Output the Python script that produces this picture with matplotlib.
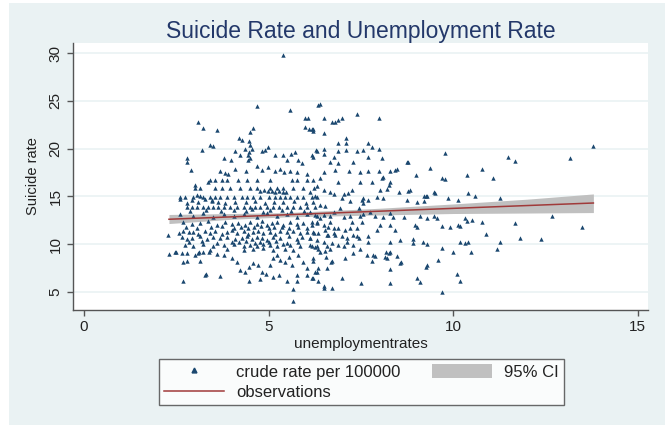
import numpy as np
import matplotlib
matplotlib.use("Agg")
import matplotlib.pyplot as plt
from matplotlib.patches import Rectangle, Patch
from matplotlib.lines import Line2D

plt.rcParams['font.family'] = ['Liberation Sans', 'DejaVu Sans']

# observations: (unemployment rate, suicide rate)
pts_top = [(5.40, 29.8), (4.68, 24.5), (5.58, 24.0), (5.99, 23.2), (6.08, 23.2), (6.35, 24.6),
           (5.99, 22.3), (6.10, 22.0), (6.21, 22.0), (3.10, 22.75), (3.21, 22.2), (3.60, 21.95),
           (4.59, 22.2), (4.50, 21.7), (6.40, 24.7), (6.49, 23.2), (6.71, 22.75), (6.80, 22.75),
           (6.89, 23.0), (6.98, 23.2), (7.39, 23.6), (7.98, 23.2), (6.17, 22.0), (6.21, 21.8),
           (6.49, 21.6), (7.10, 21.1), (7.10, 20.55), (6.89, 20.55)]
pts_upper = [(4.20, 21.1), (4.29, 20.9), (4.48, 20.8), (4.50, 20.4), (3.19, 19.8), (3.40, 20.4),
             (3.49, 20.3), (2.80, 19.0), (2.80, 18.6), (2.90, 17.8), (3.79, 19.05), (3.98, 18.8),
             (4.09, 19.75), (4.23, 19.3), (4.36, 19.95), (4.43, 19.3), (4.48, 19.6), (4.43, 18.8),
             (4.50, 19.0), (4.54, 20.0), (4.82, 19.75), (4.91, 19.85), (4.99, 20.2), (5.18, 19.3),
             (5.38, 19.3), (5.49, 18.8), (5.60, 19.4), (5.72, 19.6), (5.81, 18.8), (5.90, 18.5),
             (6.29, 19.85), (6.21, 19.15), (4.68, 18.2), (4.82, 17.8), (4.99, 18.05), (5.18, 17.6),
             (5.31, 17.9), (5.42, 17.5), (5.58, 17.6), (5.76, 17.5), (6.03, 17.3), (3.69, 17.6),
             (3.82, 17.4), (3.91, 17.3), (4.09, 17.9), (4.39, 17.65)]
pts_upper_mid = [(6.49, 20.0), (6.31, 19.75), (6.17, 19.3), (6.49, 19.4), (6.89, 19.75), (7.10, 19.85),
                 (6.76, 19.15), (7.39, 19.7), (7.57, 19.85), (7.70, 20.55), (7.79, 20.2), (7.98, 20.0),
                 (8.07, 19.0), (7.69, 19.15), (7.28, 18.6), (6.67, 18.55), (6.89, 18.45), (6.80, 17.75),
                 (7.19, 17.65), (7.48, 17.5), (7.69, 17.65), (7.98, 17.6), (8.29, 17.65), (8.43, 17.75),
                 (8.49, 17.85), (8.74, 18.55), (8.79, 18.55), (9.00, 17.2), (9.38, 17.95), (9.78, 19.5),
                 (9.69, 16.95), (10.37, 17.2), (6.49, 17.5), (6.40, 16.95), (8.09, 17.05)]
pts_right = [(11.50, 19.1), (11.68, 18.7), (13.17, 19.0), (13.79, 20.3), (10.78, 17.9), (11.09, 16.95),
             (9.78, 16.8), (8.79, 15.6), (9.51, 15.4), (9.20, 15.0), (9.27, 15.0), (10.40, 15.4),
             (10.60, 15.0), (11.27, 14.85), (9.01, 14.4), (12.67, 12.9), (13.49, 11.8), (11.68, 12.2),
             (11.80, 10.6), (12.38, 10.5), (11.27, 10.25), (11.18, 9.45), (10.89, 11.1), (10.78, 12.35),
             (10.37, 12.45), (10.19, 11.85), (10.33, 12.7), (10.51, 12.5), (9.92, 11.8), (9.69, 11.9),
             (9.47, 12.9), (9.56, 12.7)]
pts_lower_right = [(10.19, 10.25), (10.33, 10.15), (10.40, 10.25), (10.49, 9.2), (9.99, 9.2), (9.69, 9.55),
                   (9.60, 8.3), (10.10, 6.9), (10.19, 6.1), (9.69, 5.0), (9.28, 7.8), (9.27, 7.6),
                   (9.01, 6.4), (9.09, 6.0), (9.18, 10.25), (9.30, 10.0), (8.90, 10.5), (8.90, 10.15),
                   (9.01, 11.8), (8.29, 10.25), (8.29, 7.4), (8.29, 5.97), (8.47, 8.75), (8.56, 8.05),
                   (8.18, 9.2), (8.20, 8.5), (8.25, 9.05), (8.29, 9.2), (7.84, 8.9), (7.80, 8.2),
                   (7.50, 5.9), (6.98, 6.4), (6.71, 5.4), (6.49, 5.45), (6.58, 7.5), (6.71, 8.2),
                   (7.07, 8.5), (7.30, 9.05), (7.66, 8.9), (7.70, 10.25), (7.46, 10.6), (7.30, 10.95),
                   (6.49, 5.65), (6.35, 6.15), (6.21, 6.5), (6.26, 7.05), (6.68, 8.1), (6.56, 8.7),
                   (6.40, 9.15), (6.53, 9.3), (6.67, 9.5), (6.21, 8.2), (7.48, 9.5), (7.89, 8.8),
                   (8.16, 8.6), (8.58, 8.1)]
pts_mid_right = [(8.56, 10.45), (8.43, 11.5), (8.29, 12.0), (8.02, 12.0), (7.93, 11.5), (7.70, 10.8),
                 (7.39, 10.8), (7.12, 10.6), (6.98, 10.8), (6.76, 11.15), (6.62, 10.95), (8.67, 12.8),
                 (8.97, 12.0), (9.11, 12.9), (9.29, 12.7), (10.14, 12.0), (7.89, 12.9), (8.11, 12.8),
                 (8.29, 13.25), (8.38, 12.8), (7.75, 13.4), (7.57, 13.1), (7.48, 12.9), (7.21, 12.9),
                 (7.03, 12.8), (6.67, 12.9), (6.49, 13.05), (6.89, 16.5), (7.48, 16.5), (7.80, 16.55),
                 (8.07, 16.9), (8.29, 16.55), (8.83, 15.7), (9.49, 15.5), (10.14, 14.6), (9.87, 14.8),
                 (9.29, 15.0), (9.20, 14.5), (8.75, 14.6), (8.52, 15.5), (8.20, 15.8), (8.25, 16.2),
                 (8.02, 15.7), (7.53, 14.6), (7.57, 14.8), (7.26, 15.7), (7.16, 15.35), (6.98, 14.8),
                 (7.03, 15.2), (6.76, 15.2), (6.67, 15.45), (6.49, 15.7), (6.31, 16.05), (6.21, 16.7)]
pts_mid_six = [(6.12, 15.5), (6.26, 15.0), (6.21, 14.45), (6.40, 14.1), (6.53, 13.95), (6.12, 13.4),
               (6.26, 13.05), (6.40, 12.7), (6.17, 12.35), (6.31, 12.2), (6.49, 12.0), (6.62, 11.8),
               (6.76, 11.65), (6.89, 11.65), (6.67, 12.35), (6.53, 11.5), (6.21, 11.3), (6.35, 11.15),
               (6.58, 10.95), (6.80, 10.95), (6.12, 10.6), (6.31, 10.45), (6.49, 10.25), (6.71, 10.1),
               (6.89, 9.9), (6.17, 9.75), (6.35, 9.5), (6.58, 9.75), (7.03, 9.75), (7.12, 10.25),
               (7.30, 9.9), (7.07, 11.5), (7.21, 11.65), (7.39, 11.65), (7.26, 12.35), (7.53, 12.35),
               (7.44, 13.75), (7.57, 14.3), (7.70, 14.6), (7.93, 14.95), (8.11, 14.8), (7.21, 14.5),
               (6.94, 13.75), (6.76, 13.4)]
pts_low_left = [(5.67, 4.05), (5.67, 5.3), (2.69, 6.1), (3.31, 6.85), (3.69, 6.7), (4.48, 6.1),
                (4.77, 6.35), (5.13, 6.6), (5.27, 6.8), (5.49, 6.15), (5.76, 6.8), (5.76, 6.15),
                (6.03, 6.8), (6.17, 6.45), (6.31, 7.05), (6.35, 7.5), (2.28, 10.9), (2.31, 8.98),
                (2.49, 9.2), (2.69, 8.1), (2.80, 9.05), (3.01, 8.85), (3.12, 9.15), (3.23, 9.2),
                (3.39, 9.15), (3.60, 8.95), (3.78, 8.85), (4.00, 8.5), (4.14, 8.1), (4.23, 7.3),
                (4.36, 7.1), (4.48, 7.65), (4.59, 8.0), (4.72, 7.8), (4.82, 7.1), (4.93, 6.85),
                (5.04, 7.8), (5.13, 8.5), (5.22, 8.85), (5.31, 8.3), (5.45, 8.1), (5.54, 8.65),
                (5.63, 7.8), (5.81, 8.85), (5.94, 8.15), (6.03, 7.45), (6.21, 8.5), (6.26, 9.7),
                (2.47, 9.2), (2.65, 9.05), (2.78, 8.2), (3.10, 9.05), (3.14, 8.2), (3.28, 6.8)]
pts_dense_hi = [(3.41, 16.7), (3.73, 16.7), (3.87, 16.7), (4.18, 16.7), (4.41, 16.7), (4.68, 16.7),
                (5.04, 16.7), (5.63, 16.7), (5.76, 16.7), (6.03, 16.7),
                (3.01, 15.9), (3.14, 15.9), (3.55, 15.9), (3.73, 15.9), (3.96, 15.9), (4.23, 15.9),
                (4.50, 15.9), (4.68, 15.9), (5.04, 15.9), (5.22, 15.9), (5.40, 15.9), (5.67, 15.9),
                (5.94, 15.9), (6.22, 15.9),
                (2.60, 14.9), (2.74, 14.9), (2.96, 14.9), (3.23, 14.9), (3.41, 14.9), (3.55, 14.9),
                (3.69, 14.9), (3.87, 14.9), (4.05, 14.9), (4.27, 14.9), (4.41, 14.9), (4.59, 14.9),
                (4.77, 14.9), (5.00, 14.9), (5.18, 14.9), (5.31, 14.9), (5.45, 14.9), (5.58, 14.9),
                (5.76, 14.9), (5.94, 14.9), (6.17, 14.9), (6.31, 14.9),
                (3.10, 14.4), (3.46, 14.5), (3.82, 14.35), (4.10, 14.45), (4.38, 14.4), (4.64, 14.55),
                (4.90, 14.3), (5.15, 14.45), (5.40, 14.4), (5.70, 14.5), (6.00, 14.35),
                (2.60, 14.7), (2.78, 14.3), (2.92, 14.6), (3.05, 15.15), (3.14, 15.0), (3.28, 14.7),
                (3.46, 14.6), (3.64, 14.45), (3.01, 16.2), (3.37, 16.55), (3.55, 16.7),
                (4.78, 15.6), (4.88, 15.65), (4.98, 15.55), (5.08, 15.6), (5.18, 15.5), (5.28, 15.55),
                (5.38, 15.45), (5.48, 15.5)]
pts_dense_mid = [(2.78, 13.9), (2.92, 13.9), (3.05, 13.9), (3.23, 13.9), (3.37, 13.9), (3.50, 13.9),
                 (3.64, 13.9), (3.78, 13.9), (3.96, 13.9), (4.14, 13.9), (4.32, 13.9), (4.50, 13.9),
                 (4.63, 13.9), (4.77, 13.9), (4.95, 13.9), (5.13, 13.9), (5.27, 13.9), (5.49, 13.9),
                 (5.67, 13.9), (5.85, 13.9), (6.03, 13.9), (6.26, 13.9),
                 (2.87, 13.5), (3.30, 13.6), (3.70, 13.45), (4.05, 13.55), (4.40, 13.5), (4.55, 13.65),
                 (4.85, 13.4), (5.05, 13.55), (5.35, 13.6), (5.60, 13.45), (5.95, 13.5),
                 (2.60, 13.2), (2.96, 12.9), (3.23, 13.3), (3.50, 12.8), (3.78, 13.1), (4.05, 12.9),
                 (4.32, 13.2), (4.68, 12.8), (4.95, 13.3), (5.22, 12.9), (5.49, 13.1), (5.76, 12.8),
                 (6.03, 13.2), (6.31, 12.9),
                 (2.69, 12.3), (2.92, 12.1), (3.14, 12.2), (3.37, 12.4), (3.60, 12.0), (3.82, 12.3),
                 (4.00, 12.1), (4.18, 12.25), (4.36, 12.0), (4.50, 12.35), (4.68, 12.15), (4.82, 12.4),
                 (4.95, 12.0), (5.09, 12.2), (5.22, 12.3), (5.40, 12.05), (5.58, 12.35), (5.76, 12.1),
                 (5.94, 12.25), (6.17, 12.0), (6.31, 12.3),
                 (2.75, 11.8), (3.05, 11.7), (3.45, 11.75), (3.75, 11.85), (4.05, 11.7), (4.25, 11.8),
                 (4.45, 11.65), (4.60, 11.75), (4.80, 11.85), (5.00, 11.7), (5.15, 11.8), (5.35, 11.75),
                 (5.55, 11.65), (5.80, 11.8), (6.05, 11.7)]
pts_dense_lo = [(2.56, 11.2), (2.69, 11.4), (2.83, 11.25), (2.96, 11.3), (3.10, 11.1), (3.28, 11.35),
                (3.41, 11.2), (3.55, 11.4), (3.73, 11.1), (3.87, 11.3), (4.00, 11.45), (4.14, 11.2),
                (4.32, 11.35), (4.45, 11.1), (4.59, 11.3), (4.72, 11.4), (4.86, 11.2), (5.04, 11.3),
                (5.18, 11.1), (5.31, 11.35), (5.49, 11.25), (5.67, 11.4), (5.85, 11.15), (6.03, 11.3),
                (6.22, 11.2),
                (2.65, 10.7), (2.78, 10.55), (2.92, 10.65), (3.14, 10.8), (3.32, 10.5), (3.50, 10.7),
                (3.69, 10.6), (3.87, 10.75), (4.09, 10.5), (4.27, 10.65), (4.41, 10.8), (4.54, 10.55),
                (4.68, 10.7), (4.82, 10.6), (4.95, 10.45), (5.13, 10.7), (5.31, 10.6), (5.54, 10.8),
                (5.76, 10.55), (5.90, 10.7), (6.12, 10.6),
                (2.85, 10.2), (3.20, 10.3), (3.60, 10.15), (4.00, 10.25), (4.20, 10.2), (4.40, 10.3),
                (4.62, 10.1), (4.78, 10.25), (5.00, 10.2), (5.20, 10.3), (5.50, 10.15), (5.80, 10.25),
                (2.74, 9.95), (2.96, 9.8), (3.23, 10.0), (3.50, 9.85), (3.78, 9.9), (4.05, 10.05),
                (4.32, 9.8), (4.50, 9.95), (4.68, 9.85), (4.86, 10.0), (5.04, 9.9), (5.22, 9.75),
                (5.40, 10.0), (5.58, 9.9), (5.85, 9.8), (6.12, 9.95), (6.31, 9.85),
                (3.41, 9.4), (3.87, 9.5), (4.32, 9.35), (4.59, 9.45), (4.86, 9.55), (5.13, 9.4),
                (5.45, 9.5), (5.67, 9.35)]

# fitted line and 95% CI band
fit_x = [2.3, 13.8]
fit_y = [12.6, 14.3]
ci_x = [2.3, 4.0, 5.5, 8.0, 10.0, 12.0, 13.8]
ci_lo = [12.15, 12.6, 12.85, 13.05, 13.2, 13.25, 13.3]
ci_hi = [13.1, 13.2, 13.3, 13.75, 14.2, 14.7, 15.25]

obs = np.array(pts_top + pts_upper + pts_upper_mid + pts_right + pts_lower_right + pts_mid_right
               + pts_mid_six + pts_low_left + pts_dense_hi + pts_dense_mid + pts_dense_lo)

navy = '#1a476f'
bg = '#eaf2f3'
txt = '#222222'

fig = plt.figure(figsize=(6.65, 4.25), dpi=100)
fig.patch.set_facecolor('white')
fig.patches.append(Rectangle((9 / 665, 0), 1, 422 / 425, transform=fig.transFigure,
                             facecolor=bg, edgecolor='none', zorder=-10))

ax = fig.add_axes([73 / 665, 1 - 310 / 425, 575 / 665, 267 / 425])
ax.set_facecolor('white')
ax.fill_between(ci_x, ci_lo, ci_hi, color='#c0c0c0', lw=0, zorder=2)
ax.scatter(obs[:, 0], obs[:, 1], marker='^', s=10, color=navy, lw=0, zorder=3)
ax.plot(fit_x, fit_y, color='#a03a3a', lw=1.1, zorder=4)

ax.set_xlim(-0.3, 15.28)
ax.set_ylim(3.1, 31.05)
ax.set_xticks([0, 5, 10, 15])
ax.set_yticks([5, 10, 15, 20, 25, 30])
ax.yaxis.grid(True, color=bg, lw=1.2)
ax.set_axisbelow(True)
for s in ['top', 'right']:
    ax.spines[s].set_visible(False)
for s in ['left', 'bottom']:
    ax.spines[s].set_color('#555555')
    ax.spines[s].set_linewidth(1.0)
ax.tick_params(direction='out', length=4, width=1, color='#555555', labelsize=11, labelcolor=txt)
plt.setp(ax.get_yticklabels(), rotation=90, va='center')

ax.set_title('Suicide Rate and Unemployment Rate', fontsize=16.5, color='#23386a', pad=3)
ax.set_xlabel('unemploymentrates', fontsize=11, color=txt, labelpad=2)
ax.set_ylabel('Suicide rate', fontsize=10.5, color=txt, labelpad=6)

handles = [Line2D([], [], marker='^', ls='none', color=navy, markersize=3.5),
           Line2D([], [], color='#a03a3a', lw=1.1),
           Patch(facecolor='#c0c0c0', edgecolor='none')]
labels = ['crude rate per 100000', 'observations', '95% CI']
leg = fig.legend(handles, labels, ncol=2, loc='center', bbox_to_anchor=(0.5436, 0.101),
                 fontsize=12, frameon=True, fancybox=False, handlelength=3.6,
                 handleheight=0.9, handletextpad=0.7, columnspacing=1.9, labelspacing=0.3,
                 borderpad=0.3)
leg.get_frame().set_edgecolor('#444444')
leg.get_frame().set_linewidth(1.0)
for t in leg.get_texts():
    t.set_color(txt)

fig.savefig('out.png', dpi=100, facecolor=fig.get_facecolor())
